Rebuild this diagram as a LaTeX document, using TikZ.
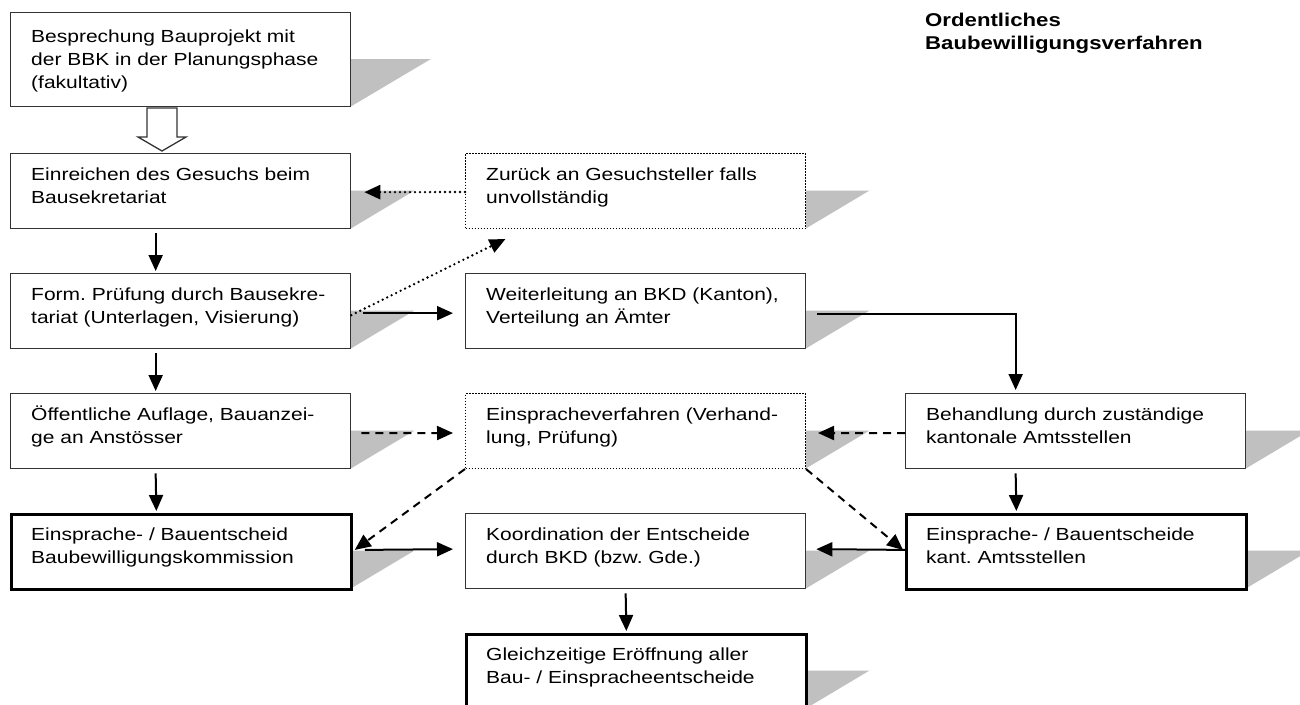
\documentclass[tikz,border=0pt]{standalone}
\usepackage{fontspec}
\setmainfont[FakeStretch=1.2]{Liberation Sans}
\usetikzlibrary{arrows.meta}
\definecolor{shd}{HTML}{C0C0C0}
\definecolor{bord}{HTML}{333333}
\frenchspacing
\newcommand\flowbox[8]{% name, x, y(top), w, h, style, text offset, text
  \fill[shd] (#2+#4,#3+#5*0.5) -- (#2+#4+#5*0.86,#3+#5*0.5) -- (#2+#4,#3+#5+1) -- cycle;
  \node[#6, minimum width=#4pt, minimum height=#5pt] (#1) at (#2,#3) {};
  \node[lbl] (#1t) at (#2+21,#3+#7) {#8};
}
\begin{document}
\begin{tikzpicture}[x=1pt,y=-1pt,
  font=\fontsize{17.5}{23}\selectfont,
  box/.style={draw=bord, line width=1.3pt, fill=white, rectangle, inner sep=0pt, anchor=north west},
  thickbox/.style={box, draw=black, line width=2.8pt},
  dotbox/.style={box, draw=black, line width=1pt, dash pattern=on 1.6pt off 1.4pt},
  lbl/.style={anchor=base west, inner sep=0pt, align=left, text width=320pt},
  arr/.style={-{Triangle[length=16pt,width=14pt]}, line width=2pt},
  dotarr/.style={arr, line width=2.6pt, dash pattern=on 0pt off 5pt, line cap=round},
  dasharr/.style={arr, line width=2pt, dash pattern=on 8pt off 6pt},
]
\useasboundingbox (0,0) rectangle (1300,704);
\fill[white] (0,0) rectangle (1300,704);

\flowbox{b1}{10}{12}{340}{94}{box}{30}{Besprechung Bauprojekt mit\\der BBK in der Planungsphase\\(fakultativ)}
\flowbox{b2}{10}{153}{340}{75}{box}{27}{Einreichen des Gesuchs beim\\Bausekretariat}
\flowbox{b3}{465}{153}{340}{75}{dotbox}{27}{Zurück an Gesuchsteller falls\\unvollständig}
\flowbox{b4}{10}{273}{340}{75}{box}{27}{Form. Prüfung durch Bausekre-\\tariat (Unterlagen, Visierung)}
\flowbox{b5}{465}{273}{340}{75}{box}{27}{Weiterleitung an BKD (Kanton),\\Verteilung an Ämter}
\flowbox{b6}{10}{393}{340}{75}{box}{27}{Öffentliche Auflage, Bauanzei-\\ge an Anstösser}
\flowbox{b7}{465}{393}{340}{75}{dotbox}{27}{Einspracheverfahren (Verhand-\\lung, Prüfung)}
\flowbox{b8}{905}{393}{340}{75}{box}{27}{Behandlung durch zuständige\\kantonale Amtsstellen}
\flowbox{b9}{10}{513}{340}{75}{thickbox}{27}{Einsprache- / Bauentscheid\\Baubewilligungskommission}
\flowbox{b10}{465}{513}{340}{75}{box}{27}{Koordination der Entscheide\\durch BKD (bzw. Gde.)}
\flowbox{b11}{905}{513}{340}{75}{thickbox}{27}{Einsprache- / Bauentscheide\\kant. Amtsstellen}
\flowbox{b12}{465}{633}{340}{75}{thickbox}{27}{Gleichzeitige Eröffnung aller\\Bau- / Einspracheentscheide}

\node[anchor=base west, inner sep=0pt, align=left, text width=330pt, font=\bfseries\fontsize{18.5}{23}\selectfont] (title) at (925,27) {Ordentliches\\Baubewilligungsverfahren};

% hollow block arrow
\draw[line width=1.3pt, draw=bord, fill=white, line join=miter]
  (147,108) -- (177,108) -- (177,137) -- (186,137) -- (162,151) -- (138,137) -- (147,137) -- cycle;

% solid vertical arrows
\draw[arr, shorten >=2pt] ([xshift=-25pt,yshift=-4pt]b2.south) -- ([xshift=-25pt]b4.north);
\draw[arr, shorten >=2pt] ([xshift=-25pt,yshift=-4pt]b4.south) -- ([xshift=-25pt]b6.north);
\draw[arr, shorten >=2pt] ([xshift=-25pt,yshift=-4pt]b6.south) -- ([xshift=-25pt]b9.north);
\draw[arr, shorten >=2pt] ([xshift=-10pt,yshift=-4pt]b10.south) -- ([xshift=-10pt]b12.north);
\draw[arr, shorten >=2pt] ([xshift=-60pt,yshift=-4pt]b8.south) -- ([xshift=-60pt]b11.north);

% solid horizontal arrows
\draw[arr] ([xshift=12pt,yshift=-2pt]b4.east) -- ([xshift=-12pt,yshift=-2pt]b5.west);
\draw[arr, shorten >=3pt] ([xshift=11pt,yshift=-2.5pt]b5.east) -| ([xshift=-60pt]b8.north);
\draw[arr] ([xshift=12pt,yshift=2pt]b9.east) -- ([xshift=-12pt,yshift=2pt]b10.west);
\draw[arr] ([yshift=2pt]b11.west) -- ([xshift=10pt,yshift=2pt]b10.east);

% dotted arrows
\draw[dotarr] ([yshift=-1pt]b3.west) -- ([xshift=13pt,yshift=-1pt]b2.east);
\coordinate (d1) at ([xshift=-130pt,yshift=-10pt]b3.south);
\draw[dotarr] ([yshift=-4pt]b4.east) -- (d1);

% dashed arrows
\draw[dasharr] ([xshift=10pt,yshift=-2pt]b6.east) -- ([xshift=-12pt,yshift=-2pt]b7.west);
\draw[dasharr] ([yshift=-2pt]b8.west) -- ([xshift=12pt,yshift=-2pt]b7.east);
\draw[dasharr] (b7.south west) -- ([xshift=2pt,yshift=2pt]b9.east);
\draw[dasharr] (b7.south east) -- ([xshift=-2pt,yshift=2pt]b11.west);
\end{tikzpicture}
\end{document}
